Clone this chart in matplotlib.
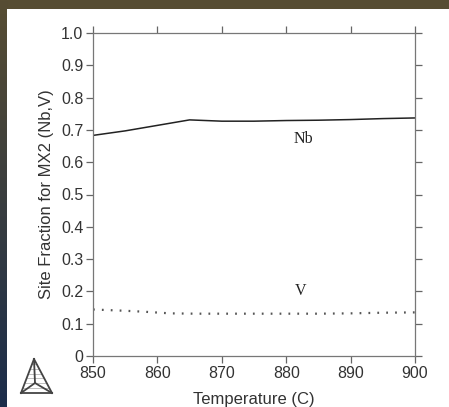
import matplotlib
matplotlib.use("Agg")
import matplotlib.pyplot as plt
import numpy as np
from matplotlib.patches import Rectangle

# data
temp_nb = [850, 855, 860, 865, 870, 875, 880, 885, 890, 895, 900]
frac_nb = [0.683, 0.697, 0.714, 0.731, 0.727, 0.727, 0.729, 0.730, 0.732, 0.735, 0.737]
temp_v = [850, 855, 858, 862, 866, 870, 875, 880, 885, 890, 895, 900]
frac_v = [0.144, 0.140, 0.137, 0.132, 0.131, 0.131, 0.131, 0.131, 0.131, 0.132, 0.134, 0.135]
xticks = [850, 860, 870, 880, 890, 900]
yticks = [0, 0.1, 0.2, 0.3, 0.4, 0.5, 0.6, 0.7, 0.8, 0.9, 1.0]
ytick_labels = ["0", "0.1", "0.2", "0.3", "0.4", "0.5", "0.6", "0.7", "0.8", "0.9", "1.0"]

W, H = 449, 407
fig = plt.figure(figsize=(W / 100, H / 100), dpi=100)
fig.patch.set_facecolor("#574d33")

# left strip: olive to navy gradient
bg = fig.add_axes([0, 0, 1, 1])
bg.set_xlim(0, W)
bg.set_ylim(H, 0)
bg.axis("off")
grad = np.linspace(0, 1, 200)[:, None]
top_c = np.array([0x57, 0x4d, 0x33]) / 255
bot_c = np.array([0x1b, 0x2d, 0x4b]) / 255
img = top_c[None, None, :] * (1 - grad[..., None]) + bot_c[None, None, :] * grad[..., None]
bg.imshow(img, extent=[0, 8, H, 0], aspect="auto")
bg.add_patch(Rectangle((7, 9), W - 7, H - 9, facecolor="white", edgecolor="none"))

# Thermo-Calc style logo
lc = "#444444"
apex, bl, br, ctr = (34, 359), (21, 393), (52, 393), (35, 383)
for p, q in [(apex, bl), (bl, br), (br, apex), (apex, ctr), (bl, ctr), (br, ctr)]:
    bg.plot([p[0], q[0]], [p[1], q[1]], color=lc, lw=1.3)
for t in np.linspace(0.15, 0.85, 6):
    a = (apex[0] + (bl[0] - apex[0]) * t, apex[1] + (bl[1] - apex[1]) * t)
    b = (apex[0] + (br[0] - apex[0]) * t, apex[1] + (br[1] - apex[1]) * t)
    bg.plot([a[0], b[0]], [a[1], b[1]], color=lc, lw=0.4, alpha=0.6)

ax = fig.add_axes([93 / W, 1 - 356 / H, 322 / W, 323 / H])
ax.set_facecolor("none")
ax.plot(temp_nb, frac_nb, color="#222222", lw=1.1)
ax.plot(temp_v, frac_v, color="#555555", lw=1.6, linestyle=(0, (0.8, 3.2)))

ax.text(882.6, 0.672, "Nb", family="Liberation Serif", fontsize=11.5, ha="center", va="center", color="#222222")
ax.text(882.3, 0.202, "V", family="Liberation Serif", fontsize=11.5, ha="center", va="center", color="#222222")

ax.set_xlim(850, 900)
ax.set_ylim(0, 1.0)
ax.set_xticks(xticks)
ax.set_yticks(yticks)
ax.set_yticklabels(ytick_labels)
ax.tick_params(direction="out", length=5, width=0.9, color="#666666",
               labelsize=11.5, labelcolor="#333333", pad=2,
               top=True, right=True)
for s in ax.spines.values():
    s.set_color("#777777")
    s.set_linewidth(0.9)

ax.set_xlabel("Temperature (C)", family="Liberation Sans", fontsize=12, color="#333333", labelpad=8)
ax.set_ylabel("Site Fraction for MX2 (Nb,V)", family="Liberation Sans", fontsize=12, color="#333333", labelpad=5)
for lab in ax.get_xticklabels() + ax.get_yticklabels():
    lab.set_family("Liberation Sans")

fig.savefig("out.png", dpi=100)
